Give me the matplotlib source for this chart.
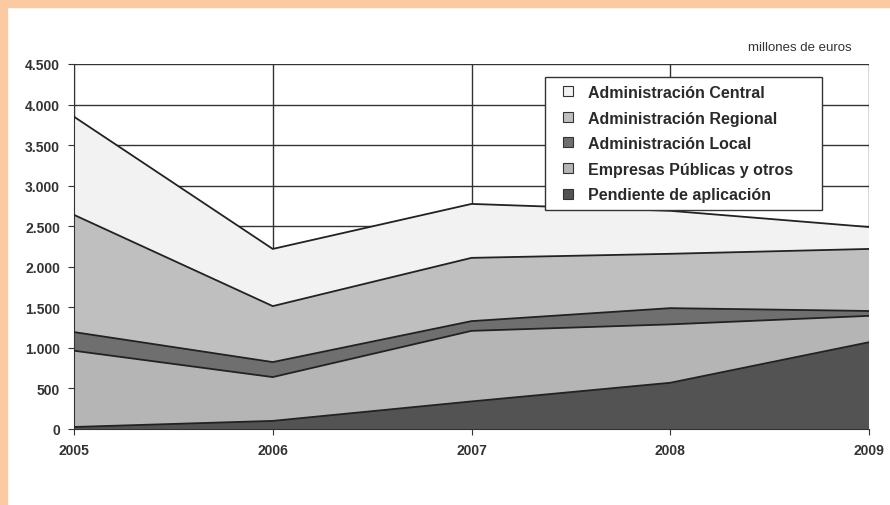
import numpy as np
import matplotlib.pyplot as plt
from matplotlib.lines import Line2D

plt.rcParams['font.family'] = ['Liberation Sans', 'DejaVu Sans']

years = [2005, 2006, 2007, 2008, 2009]
pendiente = [25, 100, 340, 570, 1070]
empresas = [940, 540, 870, 720, 325]
local = [230, 185, 120, 200, 60]
regional = [1445, 690, 780, 670, 765]
central = [1210, 705, 665, 530, 270]

series = [pendiente, empresas, local, regional, central]
labels = ['Pendiente de aplicación', 'Empresas Públicas y otros',
          'Administración Local', 'Administración Regional',
          'Administración Central']
colors = ['#535353', '#b5b5b5', '#6f6f6f', '#bfbfbf', '#f2f2f2']

fig = plt.figure(figsize=(8.9, 5.06), dpi=100)
fig.patch.set_facecolor('white')
# peach frame at top and left
fig.patches.append(plt.Rectangle((0, 1 - 8 / 506), 1, 8 / 506, transform=fig.transFigure,
                                 color='#fccaa2', zorder=0))
fig.patches.append(plt.Rectangle((0, 0), 7 / 890, 1, transform=fig.transFigure,
                                 color='#fccaa2', zorder=0))

ax = fig.add_axes([74 / 890, 76 / 506, 795 / 890, 365 / 506])

bottom = np.zeros(len(years))
for vals, col in zip(series, colors):
    top = bottom + np.array(vals)
    ax.fill_between(years, bottom, top, facecolor=col, edgecolor='none', zorder=2)
    ax.plot(years, top, color='#222222', lw=1.3, zorder=3)
    bottom = top

ax.set_xlim(2005, 2009)
ax.set_ylim(0, 4500)
ax.set_xticks(years)
ax.set_yticks(range(0, 4501, 500))
ax.set_yticklabels([f'{v:,}'.replace(',', '.') for v in range(0, 4501, 500)])
ax.grid(True, color='#333333', lw=1.0, zorder=1)
ax.set_axisbelow(True)
for s in ['top', 'right']:
    ax.spines[s].set_visible(False)
ax.spines['left'].set_color('#333333')
ax.spines['bottom'].set_color('#333333')
ax.tick_params(axis='both', labelsize=10, length=4, color='#333333', pad=6)
for t in ax.get_xticklabels() + ax.get_yticklabels():
    t.set_fontweight('bold')
    t.set_color('#333333')

fig.text(852 / 890, 1 - 48 / 506, 'millones de euros', ha='right', va='center',
         fontsize=9.5, color='#333333')

# legend: small squares, top series first, box stretched to the reference width
handles = [Line2D([], [], ls='none', marker='s', markersize=6.5,
                  markerfacecolor=c, markeredgecolor='#333333', markeredgewidth=0.8)
           for c in colors[::-1]]
lx = (545 - 74) / 795
lw = (822 - 545) / 795
ly = (430 - 212) / 365
lh = (212 - 78) / 365
leg = ax.legend(handles, labels[::-1], loc='upper left', mode='expand',
                bbox_to_anchor=(lx, ly, lw, lh),
                prop={'size': 11.5, 'weight': 'bold'}, frameon=True, fancybox=False,
                edgecolor='#333333', handlelength=1.9, handletextpad=0.3,
                labelspacing=0.66, borderpad=0.5, borderaxespad=0)
leg.get_frame().set_linewidth(1.0)
leg.get_frame().set_alpha(1)
for t in leg.get_texts():
    t.set_color('#2a2a2a')

fig.savefig('out.png', dpi=100)
